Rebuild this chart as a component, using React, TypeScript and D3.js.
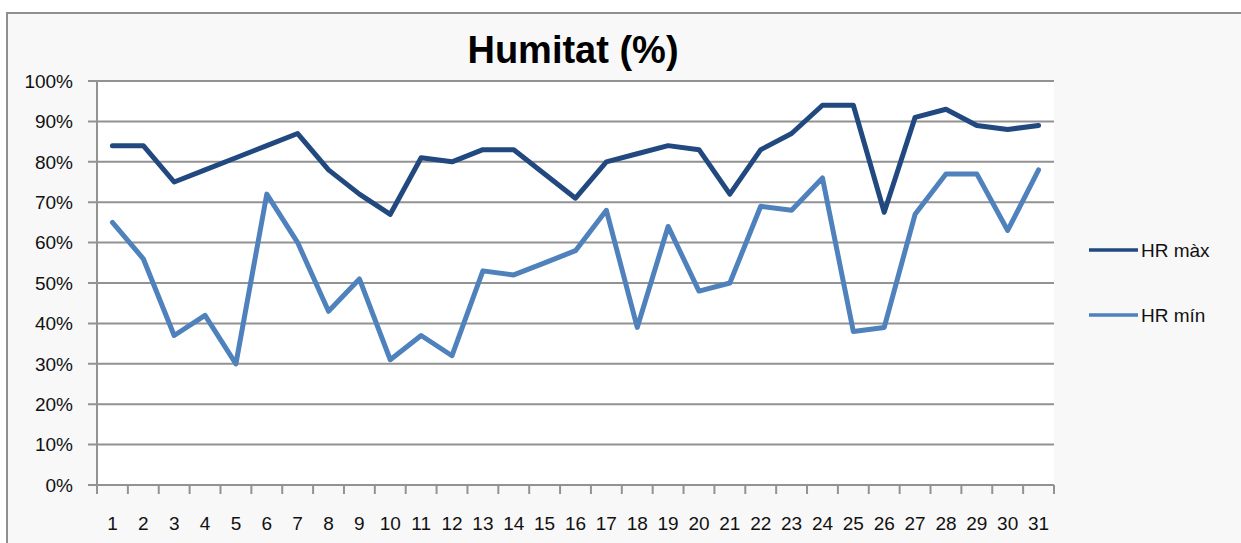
import React, { useRef, useEffect } from 'react';
import * as d3 from 'd3';

const days = d3.range(1, 32).map(String);
const hrMax = [84, 84, 75, 78, 81, 84, 87, 78, 72, 67, 81, 80, 83, 83, 77, 71, 80, 82, 84, 83, 72, 83, 87, 94, 94, 67.5, 91, 93, 89, 88, 89];
const hrMin = [65, 56, 37, 42, 30, 72, 60, 43, 51, 31, 37, 32, 53, 52, 55, 58, 68, 39, 64, 48, 50, 69, 68, 76, 38, 39, 67, 77, 77, 63, 78];
const yTicks = [0, 10, 20, 30, 40, 50, 60, 70, 80, 90, 100];

const series = [
  { name: 'HR màx', values: hrMax, color: '#21497f' },
  { name: 'HR mín', values: hrMin, color: '#4f81bd' },
];

const App = () => {
  const svgRef = useRef(null);

  useEffect(() => {
    const svg = d3.select(svgRef.current);
    svg.selectAll('*').remove();

    const width = 1241;
    const height = 543;
    const margin = { top: 81, right: 187, bottom: 58, left: 97 };
    const font = '"Liberation Sans", Arial, sans-serif';

    // chart background + frame
    svg.append('rect').attr('width', width).attr('height', height).attr('fill', '#ffffff');
    svg
      .append('rect')
      .attr('x', 7)
      .attr('y', 13)
      .attr('width', width + 20)
      .attr('height', height + 20)
      .attr('fill', '#f8f8f8')
      .attr('stroke', '#8f8f8f')
      .attr('stroke-width', 2);

    const xScale = d3
      .scaleBand()
      .domain(days)
      .range([margin.left, width - margin.right]);

    const yScale = d3
      .scaleLinear()
      .domain([0, 100])
      .range([height - margin.bottom, margin.top]);

    // plot area
    svg
      .append('rect')
      .attr('x', margin.left)
      .attr('y', margin.top)
      .attr('width', width - margin.left - margin.right)
      .attr('height', height - margin.top - margin.bottom)
      .attr('fill', '#ffffff');

    // gridlines
    svg
      .append('g')
      .selectAll('line')
      .data(yTicks)
      .join('line')
      .attr('x1', margin.left - 9)
      .attr('x2', width - margin.right)
      .attr('y1', (d) => yScale(d))
      .attr('y2', (d) => yScale(d))
      .attr('stroke', '#929292')
      .attr('stroke-width', 2);

    // y axis line
    svg
      .append('line')
      .attr('x1', margin.left)
      .attr('x2', margin.left)
      .attr('y1', margin.top)
      .attr('y2', height - margin.bottom)
      .attr('stroke', '#929292')
      .attr('stroke-width', 2);

    // y labels
    svg
      .append('g')
      .selectAll('text')
      .data(yTicks)
      .join('text')
      .attr('x', 73)
      .attr('y', (d) => yScale(d))
      .attr('dy', '0.36em')
      .attr('text-anchor', 'end')
      .attr('font-family', font)
      .attr('font-size', 19)
      .attr('fill', '#111')
      .text((d) => `${d}%`);

    // x ticks
    const tickPos = days.map((d) => xScale(d)).concat([width - margin.right]);
    svg
      .append('g')
      .selectAll('line')
      .data(tickPos)
      .join('line')
      .attr('x1', (d) => d)
      .attr('x2', (d) => d)
      .attr('y1', height - margin.bottom)
      .attr('y2', height - margin.bottom + 9)
      .attr('stroke', '#929292')
      .attr('stroke-width', 2);

    // x labels
    svg
      .append('g')
      .selectAll('text')
      .data(days)
      .join('text')
      .attr('x', (d) => xScale(d) + xScale.bandwidth() / 2)
      .attr('y', 523)
      .attr('dy', '0.36em')
      .attr('text-anchor', 'middle')
      .attr('font-family', font)
      .attr('font-size', 19)
      .attr('fill', '#111')
      .text((d) => d);

    const line = d3
      .line()
      .x((d, i) => xScale(days[i]) + xScale.bandwidth() / 2)
      .y((d) => yScale(d));

    series.forEach((s) => {
      svg
        .append('path')
        .datum(s.values)
        .attr('fill', 'none')
        .attr('stroke', s.color)
        .attr('stroke-width', 5)
        .attr('stroke-linejoin', 'round')
        .attr('stroke-linecap', 'round')
        .attr('d', line);
    });

    // legend
    const legend = svg.append('g');
    series.forEach((s, i) => {
      const y = 250 + i * 65;
      legend
        .append('line')
        .attr('x1', 1089)
        .attr('x2', 1138)
        .attr('y1', y)
        .attr('y2', y)
        .attr('stroke', s.color)
        .attr('stroke-width', 3.5);
      legend
        .append('text')
        .attr('x', 1141)
        .attr('y', y)
        .attr('dy', '0.36em')
        .attr('font-family', font)
        .attr('font-size', 19)
        .attr('fill', '#111')
        .text(s.name);
    });

    // title
    svg
      .append('text')
      .attr('x', 573)
      .attr('y', 63)
      .attr('text-anchor', 'middle')
      .attr('font-family', font)
      .attr('font-weight', 'bold')
      .attr('font-size', 38)
      .attr('fill', '#000')
      .text('Humitat (%)');
  }, []);

  return (
    <svg
      ref={svgRef}
      width={1241}
      height={543}
      style={{ position: 'absolute', left: 0, top: 0 }}
    />
  );
};

export default App;
